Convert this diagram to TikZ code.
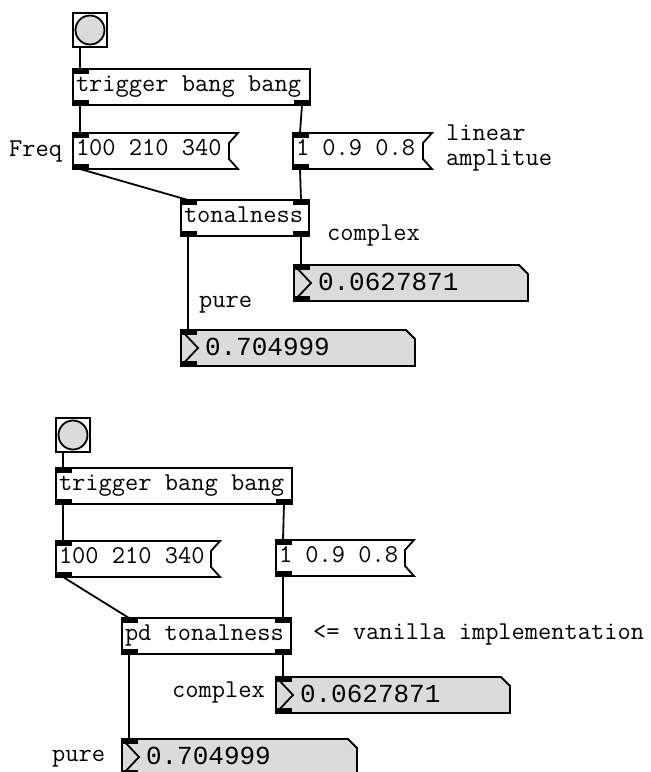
\documentclass[tikz,border=0pt]{standalone}
\usepackage{fontspec}
\usetikzlibrary{positioning,calc,backgrounds}
\newfontfamily\numfont{Liberation Mono}
\definecolor{pdgray}{gray}{0.86}
\newcommand{\pdspace}{\spaceskip=0pt\relax\xspaceskip=0pt\relax}
\tikzset{
  pdbox/.style={draw=black, line width=1.8pt, rectangle, anchor=north west, outer sep=0pt,
    minimum height=36pt, inner xsep=3pt, inner ysep=0pt, text height=15pt, text depth=6pt,
    font=\ttfamily\fontsize{25.7}{30}\selectfont, execute at begin node={\pdspace}},
  msgbox/.style={pdbox, draw=none},
  numbox/.style={pdbox, draw=none, text height=18pt, text depth=4pt,
    font=\numfont\fontsize{26}{30}\selectfont, execute at begin node={\hspace*{21pt}}},
  bangbox/.style={draw=black, line width=2.5pt, rectangle, anchor=north west, outer sep=0pt,
    minimum size=34pt, inner sep=0pt},
  pdlabel/.style={anchor=base west, inner sep=0pt, font=\ttfamily\fontsize{25.7}{30}\selectfont},
  wire/.style={line width=1.8pt}
}
\newcommand{\pdinL}[1]{\fill (#1.north west) rectangle ++(16,5);}
\newcommand{\pdinR}[1]{\fill (#1.north east) rectangle ++(-16,5);}
\newcommand{\pdoutL}[1]{\fill (#1.south west) rectangle ++(16,-5);}
\newcommand{\pdoutR}[1]{\fill (#1.south east) rectangle ++(-16,-5);}
\newcommand{\msgflag}[1]{\draw[wire] (#1.north west) -- (#1.north east) -- ++(-9,10)
  -- ($(#1.south east)+(-9,-10)$) -- (#1.south east) -- (#1.south west) -- cycle;}
\newcommand{\numflag}[1]{%
  \begin{scope}[on background layer]
    \filldraw[wire, fill=pdgray] (#1.north west) -- ($(#1.north east)+(-9,0)$)
      -- ($(#1.north east)+(0,9)$) -- (#1.south east) -- (#1.south west) -- cycle;
  \end{scope}
  \draw[wire] (#1.north west) -- ($(#1.west)+(17,0)$) -- (#1.south west);}
\newcommand{\bangdot}[1]{\draw[line width=1.8pt, fill=pdgray] (#1.center) circle (14.5);}

\begin{document}
\begin{tikzpicture}[x=1pt,y=-1pt]
  \clip (0,0) rectangle (651,772);

  % first patch
  \node[bangbox] (bangA) at (73,13) {};
  \bangdot{bangA}
  \node[pdbox, text width=231pt] (trigA) at (73,69) {trigger bang bang};
  \node[msgbox, text width=159pt] (msgA1) at (73,133) {100 210 340};
  \node[msgbox, text width=133pt] (msgA2) at (293,133) {1 0.9 0.8};
  \node[pdbox, text width=122pt] (tonA) at (181,200) {tonalness};
  \node[numbox, text width=228pt] (numA1) at (294,265) {0.0627871};
  \node[numbox, text width=228pt] (numA2) at (181,330) {0.704999};
  \msgflag{msgA1} \msgflag{msgA2}
  \numflag{numA1} \numflag{numA2}
  \pdinL{trigA} \pdoutL{trigA} \pdoutR{trigA}
  \pdinL{msgA1} \pdoutL{msgA1} \pdinL{msgA2} \pdoutL{msgA2}
  \pdinL{tonA} \pdinR{tonA} \pdoutL{tonA} \pdoutR{tonA}
  \pdinL{numA1} \pdoutL{numA1} \pdinL{numA2} \pdoutL{numA2}
  \node[pdlabel] (freqA) at (9,156) {Freq};
  \node[pdlabel] (linA) at (446,140) {linear};
  \node[pdlabel] (ampA) at (446,165) {amplitue};
  \node[pdlabel] (cplxA) at (327,240) {complex};
  \node[pdlabel] (pureA) at (199,307) {pure};
  \draw[wire] ($(bangA.south west)+(7,0)$) -- ($(trigA.north west)+(7,0)$);
  \draw[wire] ($(trigA.south west)+(7,0)$) -- ($(msgA1.north west)+(7,0)$);
  \draw[wire] ($(trigA.south east)+(-8,0)$) -- ($(msgA2.north west)+(7,0)$);
  \draw[wire] ($(msgA1.south west)+(7,0)$) -- ($(tonA.north west)+(7,0)$);
  \draw[wire] ($(msgA2.south west)+(7,0)$) -- ($(tonA.north east)+(-8,0)$);
  \draw[wire] ($(tonA.south west)+(7,0)$) -- ($(numA2.north west)+(7,0)$);
  \draw[wire] ($(tonA.south east)+(-8,0)$) -- ($(numA1.north west)+(7,0)$);

  % second patch
  \node[bangbox] (bangB) at (56,418) {};
  \bangdot{bangB}
  \node[pdbox, text width=230pt] (trigB) at (56,468) {trigger bang bang};
  \node[msgbox, text width=158pt] (msgB1) at (56,541) {100 210 340};
  \node[msgbox, text width=132pt] (msgB2) at (276,540) {1 0.9 0.8};
  \node[pdbox, text width=163pt] (tonB) at (122,618) {pd tonalness};
  \node[numbox, text width=228pt] (numB1) at (276,677) {0.0627871};
  \node[numbox, text width=229pt] (numB2) at (122,739) {0.704999};
  \msgflag{msgB1} \msgflag{msgB2}
  \numflag{numB1} \numflag{numB2}
  \pdinL{trigB} \pdoutL{trigB} \pdoutR{trigB}
  \pdinL{msgB1} \pdoutL{msgB1} \pdinL{msgB2} \pdoutL{msgB2}
  \pdinL{tonB} \pdinR{tonB} \pdoutL{tonB} \pdoutR{tonB}
  \pdinL{numB1} \pdoutL{numB1} \pdinL{numB2} \pdoutL{numB2}
  \node[pdlabel] (vanB) at (313,639) {<= vanilla implementation};
  \node[pdlabel] (cplxB) at (172,697) {complex};
  \node[pdlabel] (pureB) at (52,761) {pure};
  \draw[wire] ($(bangB.south west)+(7,0)$) -- ($(trigB.north west)+(7,0)$);
  \draw[wire] ($(trigB.south west)+(7,0)$) -- ($(msgB1.north west)+(7,0)$);
  \draw[wire] ($(trigB.south east)+(-8,0)$) -- ($(msgB2.north west)+(7,0)$);
  \draw[wire] ($(msgB1.south west)+(7,0)$) -- ($(tonB.north west)+(7,0)$);
  \draw[wire] ($(msgB2.south west)+(7,0)$) -- ($(tonB.north east)+(-8,0)$);
  \draw[wire] ($(tonB.south west)+(7,0)$) -- ($(numB2.north west)+(7,0)$);
  \draw[wire] ($(tonB.south east)+(-8,0)$) -- ($(numB1.north west)+(7,0)$);
\end{tikzpicture}
\end{document}
